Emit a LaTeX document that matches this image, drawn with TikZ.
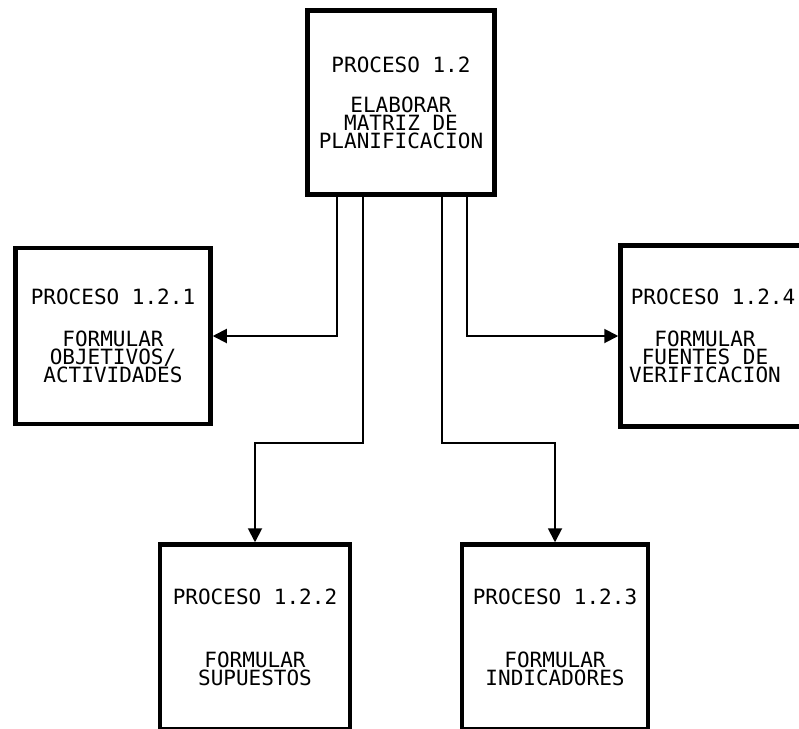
\documentclass[tikz,border=0pt]{standalone}
\usepackage{fontspec}
\setmonofont{DejaVu Sans Mono}
\usetikzlibrary{arrows.meta}
\begin{document}
\begin{tikzpicture}[x=1pt,y=-1pt,
  procbox/.style={draw, line width=4.5pt, align=center, inner sep=0pt,
    font=\ttfamily\fontsize{21}{18}\selectfont},
  conn/.style={line width=1.9pt, -{Triangle[length=14pt,width=14pt]}}]
\useasboundingbox (0,0) rectangle (799,728);
\clip (0,0) rectangle (799,728);
\fill[white] (0,0) rectangle (799,728);
\node[procbox, minimum width=187pt, minimum height=184pt] (top) at (401,102.5)
  {PROCESO 1.2\\[22pt]ELABORAR\\MATRIZ DE\\PLANIFICACION};
\node[procbox, minimum width=195pt, minimum height=176pt] (p121) at (113,336)
  {PROCESO 1.2.1\\[24pt]FORMULAR\\OBJETIVOS/\\ACTIVIDADES};
\node[procbox, minimum width=195pt, minimum height=181pt] (p124) at (718,336)
  {\hspace*{-10pt}PROCESO 1.2.4\\[24pt]\hspace*{-26pt}FORMULAR\\\hspace*{-26pt}FUENTES DE\\\hspace*{-26pt}VERIFICACION};
\node[procbox, minimum width=190pt, minimum height=185pt] (p122) at (255,637)
  {PROCESO 1.2.2\\[45pt]FORMULAR\\SUPUESTOS};
\node[procbox, minimum width=186pt, minimum height=185pt] (p123) at (555,637)
  {PROCESO 1.2.3\\[45pt]FORMULAR\\INDICADORES};
\draw[conn] ([xshift=32pt]top.south west) |- (p121.east);
\draw[conn] ([xshift=162pt]top.south west) |- (p124.west);
\draw[conn] ([xshift=58pt]top.south west) -- ++(0,246) -| (p122.north);
\draw[conn] ([xshift=137pt]top.south west) -- ++(0,246) -| (p123.north);
\end{tikzpicture}
\end{document}
